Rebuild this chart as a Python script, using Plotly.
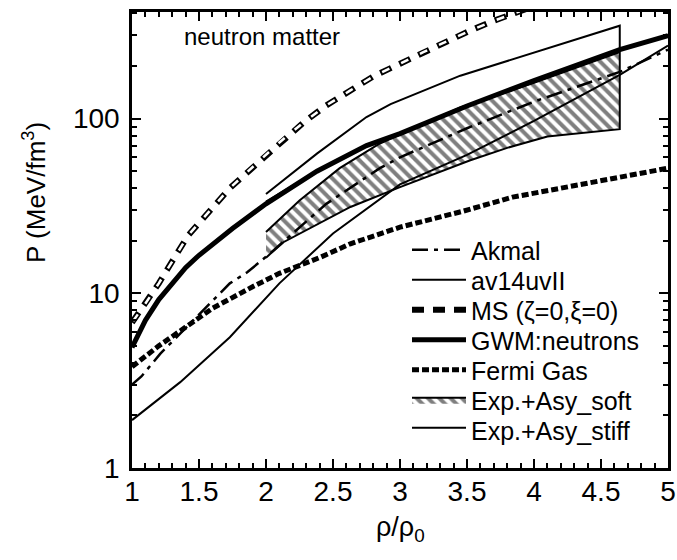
import plotly.graph_objects as go

# ---- data (x = rho/rho0, y = P in MeV/fm^3) ----
akmal_x = [1.0, 1.07, 1.21, 1.48, 1.73, 1.86, 2.03, 2.45, 2.85, 3.0, 3.5, 4.0, 4.64, 5.0]
akmal_y = [3.0, 3.34, 4.5, 7.3, 11.4, 13.2, 16.9, 32.5, 52, 60, 88, 125, 185, 248]

av14_x = [1.0, 1.36, 1.73, 2.1, 2.5, 3.0, 3.5, 4.0, 4.64, 5.0]
av14_y = [1.88, 3.1, 5.6, 11.4, 22, 42, 62, 97, 178, 262]

ms_x = [1.0, 1.085, 1.2, 1.31, 1.42, 1.73, 1.93, 2.1, 2.28, 2.45, 2.63, 2.81, 3.0, 3.17, 3.52, 3.7, 4.0]
ms_y = [6.8, 8.4, 11.4, 15.7, 21.5, 40, 55, 73, 95, 119, 145, 176, 206, 239, 318, 363, 440]

gwm_x = [1.0, 1.1, 1.2, 1.3, 1.4, 1.5, 1.75, 2.0, 2.38, 2.75, 3.0, 3.5, 4.0, 4.64, 5.0]
gwm_y = [4.9, 7.0, 9.2, 11.5, 14.0, 16.5, 23.5, 32.5, 50, 70, 82, 118, 165, 248, 298]

fermi_x = [1.0, 1.2, 1.4, 1.6, 1.9, 2.1, 2.4, 2.63, 3.0, 3.47, 3.84, 4.3, 4.69, 5.0]
fermi_y = [3.8, 5.0, 6.4, 8.2, 10.9, 13.0, 16.0, 19.2, 23.9, 29.5, 35.5, 41.5, 47.2, 52]

soft_up_x = [2.0, 2.25, 2.55, 2.85, 3.45, 4.0, 4.64]
soft_up_y = [22.4, 34, 52, 72, 116, 160, 240]
soft_lo_x = [2.0, 2.13, 2.63, 3.0, 3.52, 3.8, 4.1, 4.64]
soft_lo_y = [16, 19.6, 31.2, 40.5, 57.5, 68, 79, 87]

stiff_up_x = [2.0, 2.38, 2.75, 2.93, 3.45, 4.64]
stiff_up_y = [37, 63, 102, 121, 176, 340]
stiff_lo_x = [2.0, 2.38, 2.75, 3.0, 3.5, 4.0, 4.64]
stiff_lo_y = [33.5, 50, 70, 82, 118, 165, 245]

x_ticks = [1, 1.5, 2, 2.5, 3, 3.5, 4, 4.5, 5]
y_ticks = [1, 10, 100]
y_minor = [2, 3, 4, 5, 6, 7, 8, 9, 20, 30, 40, 50, 60, 70, 80, 90, 200, 300, 400]

FONT = "Liberation Sans, Arial, Helvetica, sans-serif"
LEG_FONT = 25

fig = go.Figure()

# stiff band (white fill, black outline)
fig.add_trace(go.Scatter(
    x=stiff_up_x + stiff_lo_x[::-1], y=stiff_up_y + stiff_lo_y[::-1],
    mode="lines", fill="toself", fillcolor="white",
    line=dict(color="black", width=2), name="Exp.+Asy_stiff", legend="legend7"))

# soft band (hatched)
fig.add_trace(go.Scatter(
    x=soft_up_x + soft_lo_x[::-1], y=soft_up_y + soft_lo_y[::-1],
    mode="lines", fill="toself", fillcolor="white",
    fillpattern=dict(shape="\\", fgcolor="black", bgcolor="white", size=8, solidity=0.5),
    line=dict(color="black", width=2), name="Exp.+Asy_soft", legend="legend6"))

fig.add_trace(go.Scatter(x=akmal_x, y=akmal_y, mode="lines", name="Akmal",
                         line=dict(color="black", width=2.5, dash="16px,6px,4px,6px"),
                         legend="legend"))
fig.add_trace(go.Scatter(x=av14_x, y=av14_y, mode="lines", name="av14uvII",
                         line=dict(color="black", width=2), legend="legend2"))
# MS hollow dashes: black outer dash + white inner dash
fig.add_trace(go.Scatter(x=ms_x, y=ms_y, mode="lines", name="MS (ζ=0,ξ=0)",
                         line=dict(color="black", width=6, dash="12px,9px"),
                         legend="legend3"))
fig.add_trace(go.Scatter(x=ms_x, y=ms_y, mode="lines", showlegend=False, hoverinfo="skip",
                         line=dict(color="white", width=2.5, dash="0px,2px,8px,11px")))
fig.add_trace(go.Scatter(x=gwm_x, y=gwm_y, mode="lines", name="GWM:neutrons",
                         line=dict(color="black", width=5), legend="legend4"))
fig.add_trace(go.Scatter(x=fermi_x, y=fermi_y, mode="lines", name="Fermi Gas",
                         line=dict(color="black", width=5, dash="7px,3px"), legend="legend5"))

# one single-entry legend per row so that the rows sit as tightly as in the reference
leg_rows_px = [250, 280, 310, 340, 370, 400, 430]
leg_names = ["legend", "legend2", "legend3", "legend4", "legend5", "legend6", "legend7"]
legends = {}
for nm, py in zip(leg_names, leg_rows_px):
    legends[nm] = dict(x=(407 - 132) / 536, y=(468 - py) / 456, xanchor="left", yanchor="middle",
                       bgcolor="rgba(0,0,0,0)", font=dict(size=LEG_FONT, family=FONT),
                       itemwidth=54, borderwidth=0)

fig.update_layout(
    width=677, height=560,
    margin=dict(l=132, r=9, t=12, b=92, autoexpand=False),
    paper_bgcolor="white", plot_bgcolor="white",
    font=dict(family=FONT, color="black", size=24),
    showlegend=True,
    annotations=[
        dict(text="neutron matter", x=(262 - 132) / 536, y=(468 - 36) / 456,
             xref="paper", yref="paper", xanchor="center", yanchor="middle",
             showarrow=False, font=dict(size=24, family=FONT)),
        dict(text="P (MeV/fm<sup>3</sup>)", x=(35 - 132) / 536, y=(468 - 193) / 456,
             xref="paper", yref="paper", xanchor="center", yanchor="middle",
             textangle=-90, showarrow=False, font=dict(size=26, family=FONT)),
        dict(text="ρ/ρ<sub>0</sub>", x=0.5, y=(468 - 529) / 456,
             xref="paper", yref="paper", xanchor="center", yanchor="middle",
             showarrow=False, font=dict(size=27, family=FONT)),
    ],
    **legends,
)

fig.update_xaxes(
    range=[1, 5], tickvals=x_ticks, ticktext=[str(v) for v in x_ticks],
    ticks="inside", ticklen=9, tickwidth=2, tickcolor="black",
    minor=dict(dtick=0.1, tick0=1, ticks="inside", ticklen=5, tickwidth=1.5, tickcolor="black"),
    showline=True, linewidth=2.5, linecolor="black", mirror="allticks",
    showgrid=False, zeroline=False, tickfont=dict(size=28), automargin=False,
    ticklabelstandoff=-3,
)
fig.update_yaxes(
    type="log", range=[0, 2.61], tickvals=y_ticks, ticktext=["1", "10", "100"],
    ticks="inside", ticklen=9, tickwidth=2, tickcolor="black",
    minor=dict(tickvals=y_minor, ticks="inside", ticklen=5, tickwidth=1.5, tickcolor="black"),
    showline=True, linewidth=2.5, linecolor="black", mirror="allticks",
    showgrid=False, zeroline=False, tickfont=dict(size=28), ticklabelstandoff=4,
    automargin=False,
)

fig.write_html(
    "out.html",
    config={"displayModeBar": False},
    post_script="document.body.style.margin='0';document.body.style.overflow='hidden';",
)
